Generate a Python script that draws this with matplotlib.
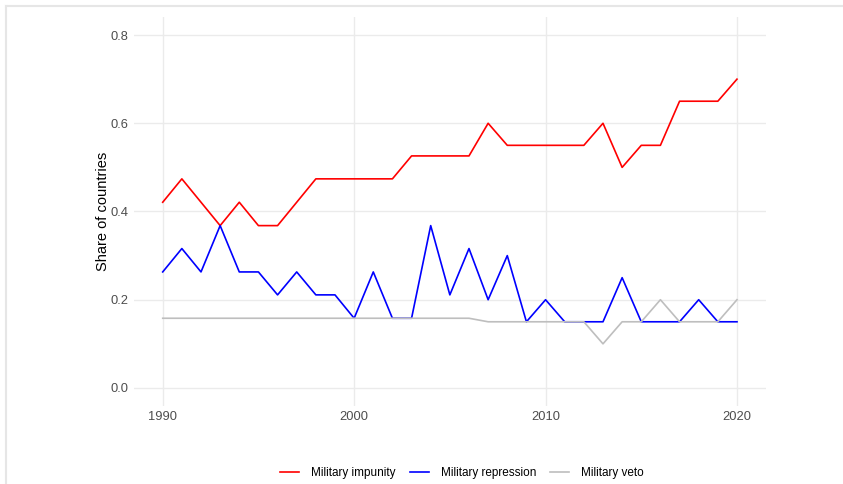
import matplotlib.pyplot as plt
from matplotlib.lines import Line2D

plt.rcParams['font.family'] = ['Liberation Sans', 'DejaVu Sans']

years = list(range(1990, 2021))

impunity = [0.421, 0.474, 0.421, 0.368, 0.421, 0.368, 0.368, 0.421, 0.474, 0.474,
            0.474, 0.474, 0.474, 0.526, 0.526, 0.526, 0.526, 0.60, 0.55, 0.55,
            0.55, 0.55, 0.55, 0.60, 0.50, 0.55, 0.55, 0.65, 0.65, 0.65, 0.70]

repression = [0.263, 0.316, 0.263, 0.368, 0.263, 0.263, 0.211, 0.263, 0.211, 0.211,
              0.158, 0.263, 0.158, 0.158, 0.368, 0.211, 0.316, 0.20, 0.30, 0.15,
              0.20, 0.15, 0.15, 0.15, 0.25, 0.15, 0.15, 0.15, 0.20, 0.15, 0.15]

veto = [0.158, 0.158, 0.158, 0.158, 0.158, 0.158, 0.158, 0.158, 0.158, 0.158,
        0.158, 0.158, 0.158, 0.158, 0.158, 0.158, 0.158, 0.15, 0.15, 0.15,
        0.15, 0.15, 0.15, 0.10, 0.15, 0.15, 0.20, 0.15, 0.15, 0.15, 0.20]

labels = ["Military impunity", "Military repression", "Military veto"]

W, H = 843, 484
fig = plt.figure(figsize=(W / 100, H / 100), dpi=100)
ax = fig.add_axes([134 / W, 1 - 405.6 / H, (765.7 - 134) / W, (405.6 - 17.4) / H])

ax.plot(years, impunity, color="#FF0000", lw=1.2, label=labels[0])
ax.plot(years, repression, color="#0000FF", lw=1.2, label=labels[1])
ax.plot(years, veto, color="#BEBEBE", lw=1.2, label=labels[2])

ax.set_xlim(1988.5, 2021.5)
ax.set_ylim(-0.04, 0.84)
ax.set_xticks([1990, 2000, 2010, 2020])
ax.set_yticks([0.0, 0.2, 0.4, 0.6, 0.8])
ax.set_yticklabels(["0.0", "0.2", "0.4", "0.6", "0.8"])
ax.grid(True, color="#EBEBEB", lw=1.0)
ax.set_axisbelow(True)
for s in ax.spines.values():
    s.set_visible(False)
ax.tick_params(length=0, labelsize=9.3, labelcolor="#4D4D4D", pad=4)
ax.set_ylabel("Share of countries", fontsize=10.5, color="black", labelpad=0)

fig.legend(loc="center", bbox_to_anchor=(462 / W, 1 - 473 / H), ncol=3,
           frameon=False, fontsize=8.5, handlelength=1.6, columnspacing=1.2,
           handletextpad=1.0)

# screenshot frame
fig.add_artist(Line2D([6 / W, 1], [1 - 6 / H, 1 - 6 / H], color="#E6E6E6", lw=1.5))
fig.add_artist(Line2D([6 / W, 6 / W], [0, 1 - 6 / H], color="#E6E6E6", lw=1.5))

fig.savefig("out.png", dpi=100)
